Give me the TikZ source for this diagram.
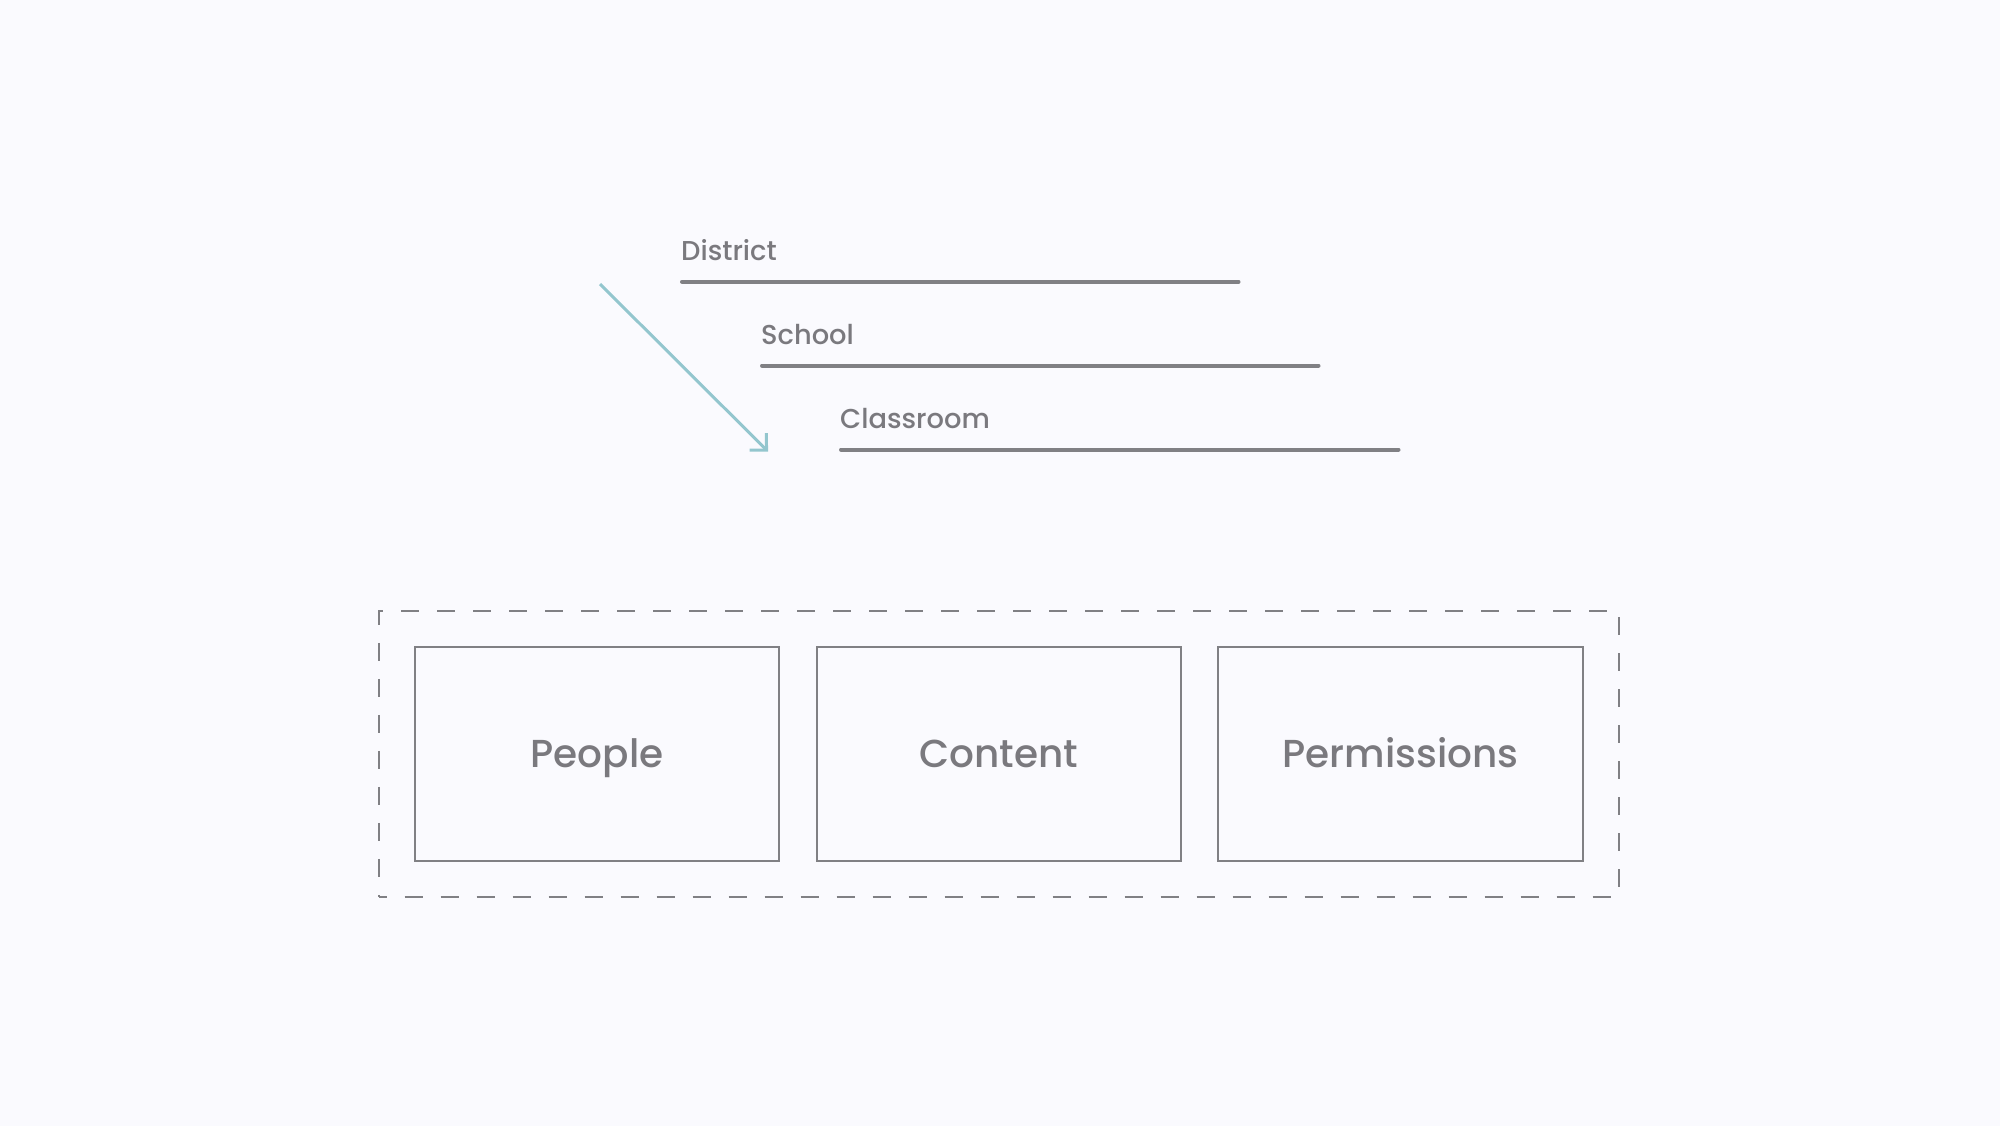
\documentclass[tikz,border=0pt]{standalone}
\usepackage{fontspec}
\setmainfont{Poppins}[UprightFont={* Medium}]
\usetikzlibrary{arrows.meta}
\definecolor{bgc}{HTML}{FAFAFE}
\definecolor{linec}{HTML}{808084}
\definecolor{textc}{HTML}{7A797E}
\definecolor{teal}{HTML}{93C6CE}
\tikzset{
  lvltext/.style={anchor=base west, inner sep=0pt, text=textc, font=\fontsize{27.3}{30}\selectfont},
  lvlline/.style={draw=linec, line width=4pt, line cap=round},
  catbox/.style={draw=linec, line width=2pt, minimum width=364.6pt, minimum height=214.3pt, inner sep=0pt, text height=28pt, text depth=0pt, text=textc, font=\fontsize{39}{44}\selectfont},
  groupbox/.style={draw=linec, line width=1.8pt, dash pattern=on 18pt off 18pt, dash phase=10pt, minimum width=1240pt, minimum height=286pt, inner sep=0pt},
  flowarrow/.style={draw=teal, line width=3pt, -{Straight Barb[angle=90:17pt, line width=3pt]}}
}
\begin{document}
\begin{tikzpicture}[x=1pt,y=-1pt]
\fill[bgc] (0,0) rectangle (2000,1126);
\useasboundingbox (0,0) rectangle (2000,1126);
% levels
\node[lvltext] (district) at (681,260) {District};
\node[lvltext] (school) at (761,344) {School};
\node[lvltext] (classroom) at (840,428) {Classroom};
\coordinate (d1) at (682,281.7); \coordinate (d2) at (1238.5,281.7);
\coordinate (s1) at (762,365.5); \coordinate (s2) at (1318.5,365.5);
\coordinate (c1) at (841,449.5); \coordinate (c2) at (1398.5,449.5);
\draw[lvlline] (d1) -- (d2);
\draw[lvlline] (s1) -- (s2);
\draw[lvlline] (c1) -- (c2);
% arrow
\coordinate (arrS) at (600,284);
\coordinate (arrE) at (768,451.5);
\draw[flowarrow] (arrS) -- (arrE);
% group
\node[groupbox] (group) at (998.6,753.8) {};
\node[catbox] (people) at (597,753.9) {People};
\node[catbox] (content) at (999,753.9) {Content};
\node[catbox] (perm) at (1400.5,753.9) {Permissions};
\end{tikzpicture}
\end{document}
